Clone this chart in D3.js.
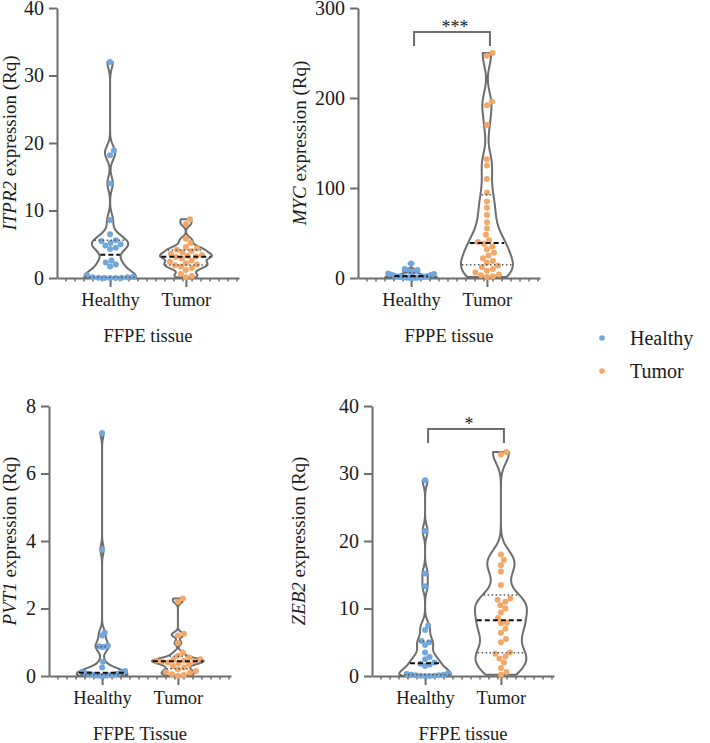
<!DOCTYPE html>
<html>
<head>
<meta charset="utf-8">
<script src="https://cdn.jsdelivr.net/npm/d3@7"></script>
<style>
  body { margin: 0; background: #fff; }
</style>
</head>
<body>
<svg id="chart"></svg>
<script>
// ---- data ----
const groups = ["Healthy", "Tumor"];
const genes = ["ITPR2", "MYC", "PVT1", "ZEB2"];
const xTitles = ["FFPE tissue", "FPPE tissue", "FFPE Tissue", "FFPE tissue"];
const yMaxes = [40, 300, 8, 40];
const yTicks = [[0, 10, 20, 30, 40], [0, 100, 200, 300], [0, 2, 4, 6, 8], [0, 10, 20, 30, 40]];
const significance = ["", "***", "", "*"];

const itpr2Healthy = [32, 18.9, 18.2, 14, 8.6, 6.5, 5.6, 5.5, 5.2, 5.0, 4.8, 4.5, 4.3, 2.6, 2.3, 2.0, 1.7, 0.4, 0.2, 0.1, 0.1, 0.05, 0.05, 0, 0, 0];
const itpr2Tumor = [8.7, 8.0, 5.8, 5.2, 4.6, 4.4, 4.2, 4.0, 3.8, 3.6, 3.4, 3.3, 3.2, 3.1, 2.9, 2.6, 2.4, 2.2, 2.0, 1.9, 1.7, 1.5, 1.2, 0.6, 0.3, 0.1];
const mycHealthy = [16, 10, 9, 8, 7.5, 7, 6, 5, 4.5, 4, 3.5, 3, 2.5, 2, 2, 1.8, 1.5, 1.2, 1, 0.8, 0.6, 0.5, 0.4, 0.3, 0.2, 0.1];
const mycTumor = [250, 247, 196, 192, 170, 132, 125, 110, 95, 85, 78, 70, 62, 55, 48, 42, 40, 38, 35, 32, 28, 25, 22, 19, 17, 14, 12, 10, 8, 6, 4, 3, 2, 1];
const pvt1Healthy = [7.2, 3.75, 1.28, 1.2, 0.9, 0.88, 0.87, 0.86, 0.42, 0.25, 0.15, 0.12, 0.1, 0.09, 0.08, 0.07, 0.06, 0.05, 0.04, 0.04, 0.03, 0.02, 0.02, 0.01, 0.01, 0];
const pvt1Tumor = [2.3, 2.2, 1.25, 1.2, 0.98, 0.7, 0.6, 0.55, 0.5, 0.48, 0.46, 0.45, 0.44, 0.43, 0.4, 0.38, 0.35, 0.3, 0.25, 0.2, 0.15, 0.12, 0.1, 0.05, 0.03, 0.01];
const zeb2Healthy = [29, 21.5, 15.2, 13.3, 7.5, 6.8, 5.2, 5.0, 4.6, 3.5, 2.8, 2.5, 2.0, 1.8, 1.7, 1.5, 0.4, 0.3, 0.2, 0.2, 0.1, 0.1, 0.05, 0.05, 0, 0];
const zeb2Tumor = [33.2, 32.8, 18, 17.2, 16.4, 15.5, 13.5, 11.5, 11.3, 11, 10.5, 10, 9.4, 8.6, 7.9, 7.8, 7, 6.4, 5.5, 5, 3.5, 3.3, 2.9, 2.6, 2, 1.2, 0.6, 0.2];

const healthyValues = [itpr2Healthy, mycHealthy, pvt1Healthy, zeb2Healthy];
const tumorValues = [itpr2Tumor, mycTumor, pvt1Tumor, zeb2Tumor];
const colors = { Healthy: "#72a7dd", Tumor: "#f3a868" };

// ---- layout ----
const W = 710, H = 743;
const axisW = 182, axisH = 270;
const layout = [
  { x0: 57, top: 8, titleX: 16 },
  { x0: 358, top: 8, titleX: 306 },
  { x0: 49, top: 406, titleX: 16 },
  { x0: 372, top: 406, titleX: 305 }
];
const gray = "#6d6d6d";
const ink = "#1a1a1a";
const serif = '"Liberation Serif"';
const halfW = 26, dotR = 3, dotGap = 6, maxSpread = 23;

const svg = d3.select("#chart").attr("width", W).attr("height", H)
  .style("font-family", serif);
svg.append("rect").attr("width", W).attr("height", H).attr("fill", "#fff");

function label(sel, size) {
  return sel.style("font-family", serif).style("font-size", size + "px").attr("fill", ink);
}

function silverman(v) {
  const s = v.slice().sort(d3.ascending);
  const iqr = d3.quantile(s, 0.75) - d3.quantile(s, 0.25);
  const sd = d3.deviation(s);
  const a = iqr > 0 ? Math.min(sd, iqr / 1.34) : sd;
  return 0.9 * a * Math.pow(s.length, -0.2);
}

function kde(values, h, lo, hi) {
  const n = 120;
  return d3.range(n + 1).map(i => {
    const y = lo + (hi - lo) * i / n;
    const d = d3.mean(values, v => Math.exp(-0.5 * ((y - v) / h) ** 2)) / h;
    return [y, d];
  });
}

function swarm(values, y) {
  const pts = values.map(v => ({ v, y: y(v) })).sort((a, b) => b.y - a.y);
  const placed = [];
  pts.forEach(p => {
    for (let k = 0; k < 400; k++) {
      const off = (k % 2 === 1 ? 1 : -1) * Math.ceil(k / 2) * 0.5;
      const hit = placed.some(q => (q.dx - off) ** 2 + (q.y - p.y) ** 2 < dotGap * dotGap);
      if (!hit) { p.dx = off; break; }
    }
    placed.push(p);
  });
  // squeeze crowded swarms back inside the violin
  const m = d3.max(placed, p => Math.abs(p.dx));
  if (m > maxSpread) placed.forEach(p => p.dx *= maxSpread / m);
  return placed;
}

genes.forEach((gene, i) => {
  const L = layout[i];
  const g = svg.append("g");
  const y = d3.scaleLinear().domain([0, yMaxes[i]]).range([L.top + axisH, L.top]);
  const x = d3.scalePoint().domain(groups).range([L.x0, L.x0 + axisW]).padding(0.7);
  const base = y(0);

  const sets = [healthyValues[i], tumorValues[i]].map((vals, j) => {
    const grp = groups[j];
    const cx = x(grp);
    const h = silverman(vals) * 0.5;
    const dens = kde(vals, h, d3.min(vals), d3.max(vals));
    const w = d3.scaleLinear().domain([0, d3.max(dens, d => d[1])]).range([0, halfW]);
    return { vals, cx, dens, w, grp };
  });

  // violins
  sets.forEach(s => {
    const area = d3.area()
      .y(d => y(d[0]))
      .x0(d => s.cx - s.w(d[1]))
      .x1(d => s.cx + s.w(d[1]))
      .curve(d3.curveBasis);
    g.append("path").datum(s.dens)
      .attr("d", area)
      .attr("fill", "#fff")
      .attr("stroke", gray)
      .attr("stroke-width", 2)
      .attr("stroke-linejoin", "round");
  });

  // x axis
  const xa = g.append("g").attr("transform", `translate(0,${base})`)
    .call(d3.axisBottom(x).tickSize(9).tickSizeOuter(0).tickPadding(6));
  xa.attr("font-family", null);
  xa.select(".domain").attr("stroke", gray).attr("stroke-width", 2);
  xa.selectAll(".tick line").attr("stroke", gray).attr("stroke-width", 2);
  label(xa.selectAll(".tick text"), 18.5);
  g.selectAll("line.minor").data(d3.range(L.x0 + 9, L.x0 + axisW, 9)).enter()
    .append("line").attr("class", "minor")
    .attr("x1", d => d).attr("x2", d => d)
    .attr("y1", base).attr("y2", base + 3.5)
    .attr("stroke", gray).attr("stroke-width", 1.5);

  // y axis
  const ya = g.append("g").attr("transform", `translate(${L.x0},0)`)
    .call(d3.axisLeft(y).tickValues(yTicks[i]).tickSize(8).tickSizeOuter(0).tickPadding(5));
  ya.attr("font-family", null);
  ya.select(".domain").attr("stroke", gray).attr("stroke-width", 2);
  ya.selectAll(".tick line").attr("stroke", gray).attr("stroke-width", 2);
  label(ya.selectAll(".tick text"), 20);

  // points
  sets.forEach(s => {
    g.selectAll(null).data(swarm(s.vals, y)).enter()
      .append("circle")
      .attr("cx", d => s.cx + d.dx)
      .attr("cy", d => d.y)
      .attr("r", dotR)
      .attr("fill", colors[s.grp]);
  });

  // median and quartiles
  sets.forEach(s => {
    const sorted = s.vals.slice().sort(d3.ascending);
    const widthAt = v => {
      const k = d3.bisector(d => d[0]).left(s.dens, v);
      const d = s.dens[Math.min(k, s.dens.length - 1)];
      return s.w(d[1]);
    };
    [[0.25, "q"], [0.5, "m"], [0.75, "q"]].forEach(([p, kind]) => {
      const q = d3.quantile(sorted, p);
      const hw = widthAt(q);
      g.append("line")
        .attr("x1", s.cx - hw + 1).attr("x2", s.cx + hw - 1)
        .attr("y1", y(q)).attr("y2", y(q))
        .attr("stroke", kind === "m" ? "#111" : "#555")
        .attr("stroke-width", kind === "m" ? 2 : 1.5)
        .attr("stroke-dasharray", kind === "m" ? "5,3" : "1.5,2.5");
    });
  });

  // y title
  const yt = label(g.append("text"), 19)
    .attr("transform", `translate(${L.titleX},${L.top + axisH / 2}) rotate(-90)`)
    .attr("text-anchor", "middle");
  yt.append("tspan").style("font-style", "italic").text(gene);
  yt.append("tspan").text(" expression (Rq)");

  // x title
  label(g.append("text"), 18.5)
    .attr("x", L.x0 + axisW / 2)
    .attr("y", base + 64)
    .attr("text-anchor", "middle")
    .text(xTitles[i]);

  // significance bracket
  if (significance[i]) {
    const by = L.top + 24 + (i === 3 ? -1 : 0);
    const x1 = x(groups[0]) + 3, x2 = x(groups[1]) + 3;
    g.append("path")
      .attr("d", `M${x1},${by + 14}V${by}H${x2}V${by + 14}`)
      .attr("fill", "none").attr("stroke", gray).attr("stroke-width", 2);
    label(g.append("text"), 18)
      .attr("x", (x1 + x2) / 2 + 3).attr("y", by + 1)
      .attr("text-anchor", "middle")
      .text(significance[i]);
  }
});

// legend
const legend = svg.append("g");
groups.forEach((grp, j) => {
  const ly = 338 + j * 33;
  legend.append("circle").attr("cx", 602).attr("cy", ly).attr("r", 2.8).attr("fill", colors[grp]);
  label(legend.append("text"), 20).attr("x", 630).attr("y", ly + 7).text(grp);
});
</script>
</body>
</html>
